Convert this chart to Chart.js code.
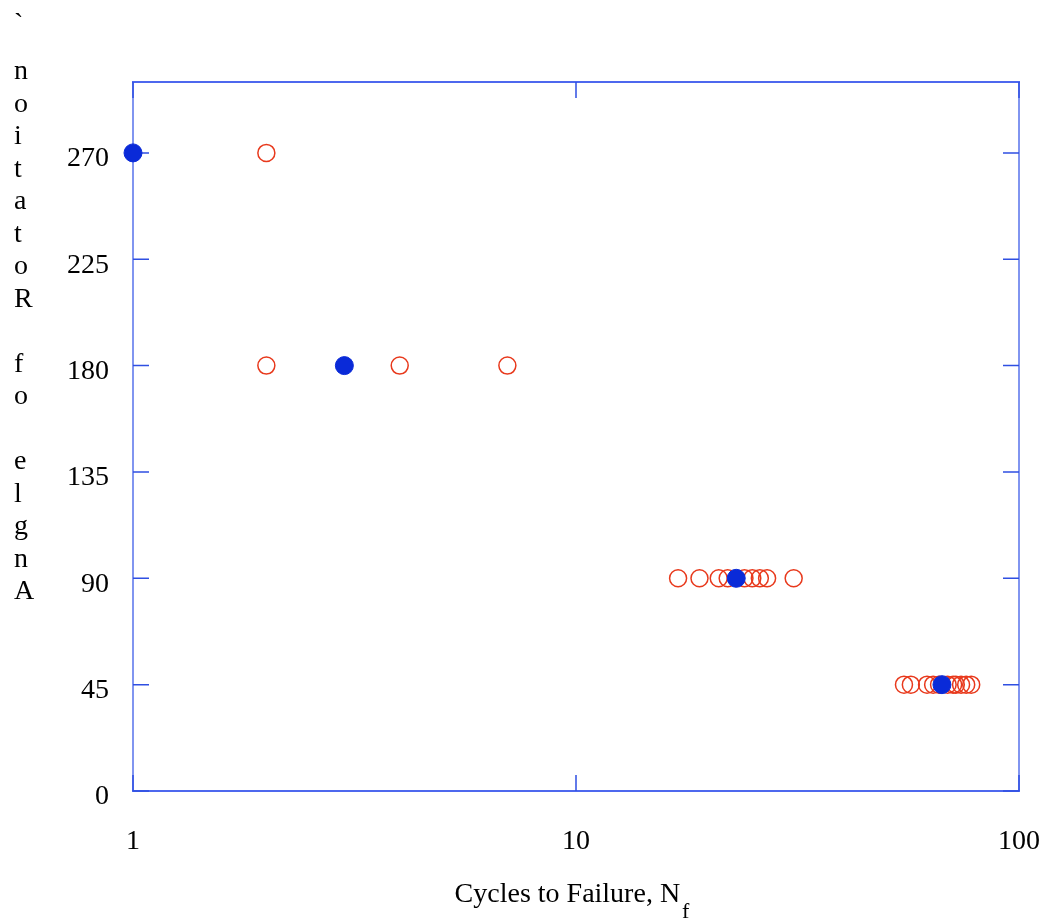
<!DOCTYPE html>
<html>
<head>
<meta charset="utf-8">
<script src="https://cdn.jsdelivr.net/npm/chart.js@4.4.1/dist/chart.umd.min.js"></script>
<style>
  html, body { margin: 0; padding: 0; background: #ffffff; }
  #wrap { width: 1046px; height: 920px; position: relative; }
</style>
</head>
<body>
<div id="wrap"><canvas id="c" width="1046" height="920"></canvas></div>
<script>
// ---- data ----
const xTickValues = [1, 10, 100];
const yTickValues = [0, 45, 90, 135, 180, 225, 270];
const xTitle = "Cycles to Failure, N";
const xTitleSub = "f";
const yTitle = "Angle of Rotation`";

const testCycles = [2, 2, 4, 7,
  17, 19, 21, 22, 24, 25, 26, 27, 31,
  55, 57, 62, 64, 66, 69, 71, 72, 74, 76, 78];
const testAngles = [270, 180, 180, 180,
  90, 90, 90, 90, 90, 90, 90, 90, 90,
  45, 45, 45, 45, 45, 45, 45, 45, 45, 45, 45];

const meanCycles = [1, 3, 23, 67];
const meanAngles = [270, 180, 90, 45];

const FONT = "Liberation Serif";
const FS = 28;
const AXIS_V = "#8195f0";
const AXIS_H = "#4d68ee";
const TICK = "#2f4fe2";

const framePlugin = {
  id: "frame",
  beforeDatasetsDraw(chart) {
    const { ctx, chartArea: a, scales } = chart;
    ctx.save();
    ctx.lineWidth = 2;
    ctx.strokeStyle = AXIS_V;
    ctx.beginPath();
    ctx.moveTo(a.left, a.top); ctx.lineTo(a.left, a.bottom);
    ctx.moveTo(a.right, a.top); ctx.lineTo(a.right, a.bottom);
    ctx.stroke();
    ctx.strokeStyle = AXIS_H;
    ctx.beginPath();
    ctx.moveTo(a.left - 1, a.top); ctx.lineTo(a.right + 1, a.top);
    ctx.moveTo(a.left - 1, a.bottom); ctx.lineTo(a.right + 1, a.bottom);
    ctx.stroke();
    const L = 16;
    ctx.strokeStyle = TICK;
    ctx.lineWidth = 1.5;
    ctx.beginPath();
    for (const v of yTickValues) {
      const y = scales.y.getPixelForValue(v);
      ctx.moveTo(a.left, y); ctx.lineTo(a.left + L, y);
      ctx.moveTo(a.right, y); ctx.lineTo(a.right - L, y);
    }
    for (const v of xTickValues) {
      const x = scales.x.getPixelForValue(v);
      ctx.moveTo(x, a.bottom); ctx.lineTo(x, a.bottom - L);
      ctx.moveTo(x, a.top); ctx.lineTo(x, a.top + L);
    }
    ctx.stroke();
    ctx.restore();
  },
  afterDraw(chart) {
    const { ctx, chartArea: a } = chart;
    ctx.save();
    ctx.fillStyle = "#000";
    ctx.font = FS + "px '" + FONT + "'";
    const w1 = ctx.measureText(xTitle).width;
    ctx.font = "22px '" + FONT + "'";
    const w2 = ctx.measureText(xTitleSub).width;
    const total = w1 + 2 + w2;
    const cx = (a.left + a.right) / 2 - 4;
    const x0 = cx - total / 2;
    ctx.textBaseline = "alphabetic";
    ctx.textAlign = "left";
    ctx.font = FS + "px '" + FONT + "'";
    ctx.fillText(xTitle, x0, 902);
    ctx.font = "22px '" + FONT + "'";
    ctx.fillText(xTitleSub, x0 + w1 + 2, 918);
    ctx.font = FS + "px '" + FONT + "'";
    ctx.textBaseline = "middle";
    const chars = yTitle.split("").reverse();
    const step = 32.5;
    const firstLetterY = 72;
    chars.forEach((ch, i) => {
      if (ch === " ") return;
      let y = firstLetterY + (i - 1) * step;
      if (i === 0) y = 25;
      ctx.fillText(ch, 14, y);
    });
    ctx.restore();
  }
};

new Chart(document.getElementById("c"), {
  type: "scatter",
  data: {
    datasets: [
      {
        label: "Tests",
        data: testCycles.map((c, i) => ({ x: c, y: testAngles[i] })),
        pointStyle: "circle",
        pointRadius: 8.5,
        pointBorderWidth: 1.5,
        pointBackgroundColor: "rgba(0,0,0,0)",
        pointBorderColor: "#e8391c",
        clip: false,
        order: 2
      },
      {
        label: "Mean",
        data: meanCycles.map((c, i) => ({ x: c, y: meanAngles[i] })),
        pointStyle: "circle",
        pointRadius: 9,
        pointBorderWidth: 1,
        pointBackgroundColor: "#0a2ad8",
        pointBorderColor: "#0a2ad8",
        clip: false,
        order: 1
      }
    ]
  },
  options: {
    responsive: false,
    animation: false,
    devicePixelRatio: 1,
    layout: { padding: { top: 82, right: 27, left: 0, bottom: 0 } },
    plugins: { legend: { display: false }, tooltip: { enabled: false }, title: { display: false } },
    scales: {
      x: {
        type: "logarithmic",
        min: 1, max: 100,
        grid: { display: false, drawTicks: false },
        border: { display: false },
        afterBuildTicks(s) { s.ticks = xTickValues.map(v => ({ value: v })); },
        afterFit(s) { s.height = 129; s.paddingLeft = 0; s.paddingRight = 0; },
        ticks: {
          color: "#000",
          font: { family: FONT, size: FS },
          padding: 34,
          maxRotation: 0,
          autoSkip: false,
          callback: (v) => String(v)
        }
      },
      y: {
        min: 0, max: 300,
        grid: { display: false, drawTicks: false },
        border: { display: false },
        afterBuildTicks(s) { s.ticks = yTickValues.map(v => ({ value: v })); },
        afterFit(s) { s.width = 133; s.paddingTop = 0; s.paddingBottom = 0; },
        ticks: {
          color: "#000",
          font: { family: FONT, size: FS },
          padding: 24,
          labelOffset: 6,
          callback: (v) => String(v)
        }
      }
    }
  },
  plugins: [framePlugin]
});
</script>
</body>
</html>
